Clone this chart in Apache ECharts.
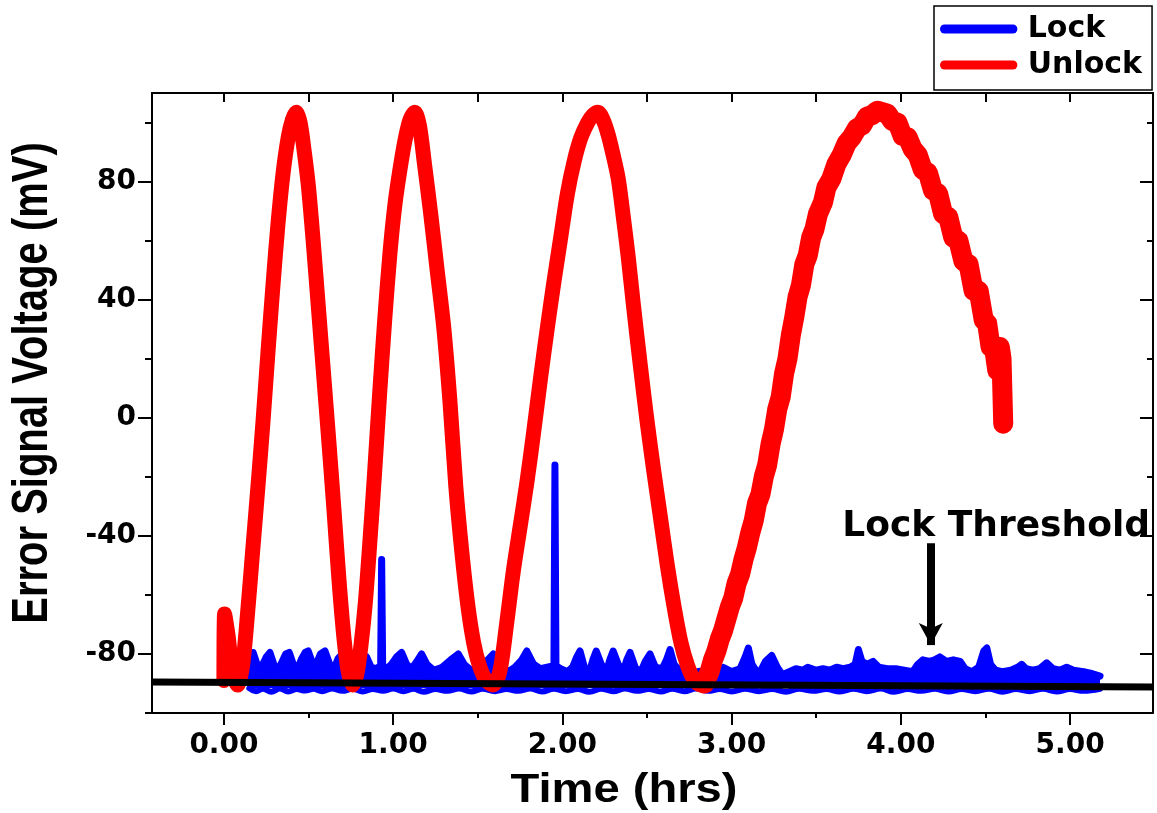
<!DOCTYPE html>
<html>
<head>
<meta charset="utf-8">
<title>Error Signal Voltage vs Time</title>
<script src="https://cdn.jsdelivr.net/npm/echarts@6/dist/echarts.min.js"></script>
<style>
  html, body { margin: 0; padding: 0; background: #ffffff; }
  #chart { width: 1157px; height: 813px; }
</style>
</head>
<body>
<div id="chart"></div>
<script>
// ---- axis ticks ----
const xMajorTicks = [0, 1, 2, 3, 4, 5];
const xMinorTicks = [0.5, 1.5, 2.5, 3.5, 4.5];
const xTopTicks = [0, 0.5, 1, 1.5, 2, 2.5, 3, 3.5, 4, 4.5, 5];
const yMajorTicks = [-80, -40, 0, 40, 80];
const yMinorTicks = [-100, -60, -20, 20, 60, 100];

// ---- Unlock trace (hours, mV): clean oscillation part ----
const unlockTimeA = [0.000,0.004,0.025,0.050,0.080,0.110,0.140,0.170,0.200,0.230,0.260,0.290,0.320,0.350,0.380,0.405,0.428,0.450,0.475,0.500,0.530,0.560,0.590,0.620,0.650,0.680,0.710,0.735,0.760,0.785,0.810,0.835,0.860,0.890,0.920,0.950,0.980,1.010,1.040,1.070,1.100,1.128,1.155,1.185,1.220,1.260,1.300,1.335,1.370,1.405,1.440,1.475,1.510,1.550,1.590,1.630,1.670,1.710,1.750,1.790,1.830,1.870,1.910,1.950,1.990,2.030,2.070,2.110,2.150,2.180,2.210,2.240,2.270,2.300,2.330,2.360,2.390,2.420,2.460,2.500,2.540,2.580,2.620,2.660,2.700,2.740,2.780,2.820,2.850];
const unlockValueA = [-89,-66.5,-74,-86,-90.5,-84,-66,-45,-24,-2,22,45,66,83,95,101,103.5,100,90,78,58,36,14,-8,-31,-55,-75,-86,-90.5,-87,-77,-63,-44,-19,8,33,55,72,84,94,101,103.5,99,86,70,50,30,6,-23,-45,-63,-76,-84,-89,-90.5,-86,-70,-52,-37,-22,-5,13,30,46,61,76,87,95,100,102.5,103.5,101,96,89,81,68,54,38,18,-1,-18,-34,-50,-64,-76,-84,-89,-90.5,-89.5];

// ---- Unlock trace: noisy slow swing ----
const unlockTimeB = [2.840,2.870,2.890,2.910,2.930,2.950,2.970,2.990,3.010,3.030,3.050,3.070,3.090,3.110,3.130,3.150,3.170,3.190,3.210,3.230,3.250,3.270,3.290,3.310,3.330,3.350,3.370,3.390,3.410,3.430,3.450,3.470,3.490,3.510,3.540,3.560,3.590,3.620,3.650,3.680,3.710,3.740,3.770,3.800,3.830,3.860,3.890,3.920,3.950,3.980,4.010,4.040,4.070,4.100,4.130,4.160,4.190,4.220,4.250,4.280,4.310,4.340,4.370,4.400,4.430,4.460,4.490,4.510,4.530,4.550,4.570,4.585,4.595,4.605];
const unlockValueB = [-90,-86,-82,-79,-75,-72,-68,-64,-61,-56,-53,-48,-44,-39,-35,-29,-26,-20,-16,-9,-4,3,7,15,20,28,34,41,45,52,55,61,64,69,73,78,81,86,89,93,95,98,99,102,102.5,104,103.5,103,100.5,100,95.5,95,91,89,84,83,77,76,69,68,61,60,53,52,43,43,33,32,24,24,16,24,20,-2];

// ---- Lock trace: upper envelope of the residual error ----
const lockTime = [0.150,0.160,0.173,0.190,0.205,0.225,0.250,0.272,0.295,0.320,0.345,0.365,0.386,0.410,0.435,0.460,0.480,0.498,0.520,0.545,0.570,0.597,0.625,0.650,0.675,0.700,0.725,0.750,0.780,0.810,0.843,0.870,0.900,0.926,0.932,0.938,0.960,0.990,1.020,1.050,1.080,1.110,1.140,1.168,1.200,1.240,1.290,1.340,1.385,1.420,1.460,1.500,1.550,1.592,1.630,1.680,1.720,1.760,1.790,1.830,1.870,1.910,1.950,1.956,1.962,1.990,2.030,2.060,2.085,2.104,2.130,2.160,2.180,2.200,2.230,2.260,2.280,2.300,2.330,2.360,2.380,2.400,2.430,2.460,2.490,2.518,2.550,2.590,2.615,2.636,2.660,2.700,2.750,2.800,2.850,2.900,2.950,3.000,3.050,3.080,3.099,3.120,3.160,3.200,3.237,3.270,3.300,3.340,3.380,3.420,3.450,3.500,3.540,3.580,3.620,3.660,3.700,3.730,3.749,3.770,3.800,3.836,3.870,3.920,3.970,4.020,4.070,4.100,4.130,4.170,4.200,4.230,4.270,4.310,4.350,4.380,4.420,4.460,4.490,4.508,4.530,4.560,4.600,4.650,4.690,4.714,4.740,4.780,4.820,4.862,4.900,4.940,4.980,5.020,5.080,5.120,5.177];
const lockValue = [-89,-83,-79.5,-82.5,-85,-84,-81,-79.5,-83.5,-85.5,-82.5,-80,-79.5,-83.5,-85,-81.5,-79.5,-79,-82.5,-83.5,-80,-79,-83.5,-85,-81.5,-80,-83.5,-85,-83.5,-82,-81,-84.5,-85,-84,-48,-84,-85,-83.5,-81,-79.5,-83.5,-85,-82.5,-80,-83.5,-85.5,-84.5,-82,-80,-83.5,-85.5,-85,-82.5,-80,-83.5,-86,-84.5,-82,-79,-83.5,-85,-84.5,-84,-16,-84,-85,-86,-84.5,-81,-79,-84.5,-86,-82,-79,-83.5,-86,-82,-79,-83.5,-86,-82,-79.5,-84.5,-86.5,-82.5,-80,-84.5,-85,-82,-78.5,-83.5,-86,-87,-86,-85.5,-86.5,-84.5,-86,-85,-81,-78,-83.5,-87,-82.5,-80.5,-84.5,-87,-86,-85,-85.5,-84.5,-85.5,-85,-85.5,-84.5,-85,-84.5,-83.5,-78.5,-82.5,-83.5,-82.5,-84.5,-85,-85,-85.5,-86,-83.5,-82,-82.5,-82,-81,-82.5,-82,-82.5,-85,-86,-84.5,-79,-78,-83.5,-85.5,-86,-85.5,-84.5,-83.5,-85,-85.5,-85,-83,-85,-85.5,-84.5,-85.5,-86,-86.5,-87.5];

// ---- Lock trace: lower edge ripple ----
const lockBaseTime = [0.150,0.190,0.230,0.280,0.330,0.380,0.430,0.480,0.530,0.580,0.640,0.700,0.760,0.820,0.880,0.940,1.000,1.060,1.120,1.180,1.250,1.320,1.390,1.460,1.530,1.600,1.670,1.740,1.810,1.880,1.950,2.020,2.090,2.160,2.230,2.300,2.370,2.440,2.510,2.580,2.650,2.720,2.790,2.860,2.930,3.000,3.080,3.160,3.240,3.320,3.400,3.480,3.560,3.640,3.720,3.800,3.880,3.960,4.040,4.120,4.200,4.280,4.360,4.440,4.520,4.600,4.680,4.760,4.840,4.920,5.000,5.080,5.177];
const lockBaseValue = [-91.6,-92.6,-91.8,-92.8,-91.7,-92.7,-91.9,-92.4,-91.8,-92.6,-91.7,-92.5,-91.8,-92.7,-91.9,-92.5,-91.7,-92.6,-91.8,-92.8,-91.9,-92.5,-91.7,-92.7,-91.8,-92.6,-91.9,-92.5,-91.7,-92.7,-91.8,-92.6,-91.9,-92.8,-91.8,-92.6,-91.7,-92.5,-91.9,-92.7,-91.8,-92.6,-91.7,-92.5,-91.9,-92.7,-91.8,-92.6,-91.9,-92.8,-91.8,-92.5,-91.9,-92.7,-91.8,-92.6,-91.7,-92.8,-91.9,-92.5,-91.8,-92.7,-91.9,-92.6,-91.8,-92.8,-91.9,-92.6,-91.8,-92.7,-91.9,-92.5,-91.8];

// ---- lock threshold reference line ----
const thresholdTime = [-0.425, 5.49];
const thresholdValue = [-89.5, -91.2];

// annotation anchor (hours, mV)
const thresholdLabelAt = [4.563, -37];
const arrowFrom = [4.177, -42.5];
const arrowTo = [4.177, -77];

const pairs = (t, v) => t.map((x, i) => [x, v[i]]);

const X_MIN = -0.425, X_MAX = 5.49, Y_MIN = -100, Y_MAX = 110;
const tickFont = { color: '#000', fontFamily: 'DejaVu Sans', fontWeight: 'bold', fontSize: 28 };
const axisLine = { show: true, onZero: false, lineStyle: { color: '#000', width: 2 } };
const noLine = { show: false, onZero: false };

const chart = echarts.init(document.getElementById('chart'), null, { renderer: 'canvas' });

const xAxisBase = { type: 'value', min: X_MIN, max: X_MAX, splitLine: { show: false } };
const yAxisBase = { type: 'value', min: Y_MIN, max: Y_MAX, splitLine: { show: false } };

chart.setOption({
  animation: false,
  backgroundColor: '#ffffff',
  grid: { left: 152, right: 4, top: 93, bottom: 100, containLabel: false },
  legend: {
    data: ['Lock', 'Unlock'],
    orient: 'vertical',
    left: 934,
    top: 6,
    padding: [8, 10, 10, 6],
    itemGap: 6,
    itemWidth: 86,
    itemHeight: 9,
    icon: 'path://M5,0 L81,0 A5,5 0 0 1 81,10 L5,10 A5,5 0 0 1 5,0 Z',
    borderColor: '#000',
    borderWidth: 1.5,
    textStyle: { color: '#000', fontFamily: 'DejaVu Sans', fontWeight: 'bold', fontSize: 30, lineHeight: 30, padding: [0, 0, 0, 1] },
    selectedMode: false
  },
  xAxis: [
    Object.assign({}, xAxisBase, {
      position: 'bottom',
      axisLine: axisLine,
      axisTick: { show: true, inside: false, length: 12, customValues: xMajorTicks, lineStyle: { color: '#000', width: 2 } },
      axisLabel: Object.assign({ show: true, margin: 19, customValues: xMajorTicks, formatter: v => v.toFixed(2) }, tickFont)
    }),
    Object.assign({}, xAxisBase, {
      position: 'bottom',
      axisLine: noLine,
      axisTick: { show: true, inside: false, length: 5, customValues: xMinorTicks, lineStyle: { color: '#000', width: 2 } },
      axisLabel: { show: false }
    }),
    Object.assign({}, xAxisBase, {
      position: 'top',
      axisLine: axisLine,
      axisTick: { show: true, inside: true, length: 9, customValues: xTopTicks, lineStyle: { color: '#000', width: 2 } },
      axisLabel: { show: false }
    })
  ],
  yAxis: [
    Object.assign({}, yAxisBase, {
      position: 'left',
      axisLine: axisLine,
      axisTick: { show: true, inside: false, length: 14, customValues: yMajorTicks, lineStyle: { color: '#000', width: 2 } },
      axisLabel: Object.assign({ show: true, margin: 16, customValues: yMajorTicks }, tickFont)
    }),
    Object.assign({}, yAxisBase, {
      position: 'left',
      axisLine: noLine,
      axisTick: { show: true, inside: false, length: 7, customValues: yMinorTicks, lineStyle: { color: '#000', width: 2 } },
      axisLabel: { show: false }
    }),
    Object.assign({}, yAxisBase, {
      position: 'right',
      axisLine: axisLine,
      axisTick: { show: true, inside: true, length: 13, customValues: yMajorTicks, lineStyle: { color: '#000', width: 2 } },
      axisLabel: { show: false }
    }),
    Object.assign({}, yAxisBase, {
      position: 'right',
      axisLine: noLine,
      axisTick: { show: true, inside: true, length: 6, customValues: yMinorTicks, lineStyle: { color: '#000', width: 2 } },
      axisLabel: { show: false }
    })
  ],
  series: [
    {
      name: 'Lock',
      type: 'line',
      xAxisIndex: 0, yAxisIndex: 0,
      data: pairs(lockTime, lockValue),
      showSymbol: false, symbol: 'none',
      color: '#0000FF',
      lineStyle: { color: '#0000FF', width: 7, join: 'round', cap: 'round' },
      areaStyle: { color: '#0000FF', opacity: 1, origin: -91.5 },
      z: 2
    },
    {
      name: 'Lock',
      type: 'line',
      xAxisIndex: 0, yAxisIndex: 0,
      data: pairs(lockBaseTime, lockBaseValue),
      showSymbol: false, symbol: 'none',
      smooth: 0.4,
      color: '#0000FF',
      lineStyle: { color: '#0000FF', width: 6, join: 'round', cap: 'round' },
      z: 2
    },
    {
      name: 'Unlock',
      type: 'line',
      xAxisIndex: 0, yAxisIndex: 0,
      data: pairs(unlockTimeA, unlockValueA),
      showSymbol: false, symbol: 'none',
      smooth: 0.3,
      color: '#FF0000',
      lineStyle: { color: '#FF0000', width: 15, join: 'round', cap: 'round' },
      z: 3
    },
    {
      name: 'Unlock',
      type: 'line',
      xAxisIndex: 0, yAxisIndex: 0,
      data: pairs(unlockTimeB, unlockValueB),
      showSymbol: false, symbol: 'none',
      color: '#FF0000',
      lineStyle: { color: '#FF0000', width: 20, join: 'round', cap: 'round' },
      z: 3
    },
    {
      name: 'Threshold',
      type: 'line',
      xAxisIndex: 0, yAxisIndex: 0,
      data: pairs(thresholdTime, thresholdValue),
      showSymbol: false, symbol: 'none',
      color: '#000',
      lineStyle: { color: '#000', width: 7 },
      z: 4,
      markPoint: {
        silent: true,
        symbol: 'circle',
        symbolSize: 1,
        itemStyle: { color: 'rgba(0,0,0,0)' },
        label: {
          show: true, position: 'inside', formatter: 'Lock Threshold',
          color: '#000', fontFamily: 'DejaVu Sans', fontWeight: 'bold', fontSize: 36
        },
        data: [{ coord: thresholdLabelAt }]
      },
      markLine: {
        silent: true,
        symbol: ['none', 'arrow'],
        symbolSize: [18, 22],
        label: { show: false },
        lineStyle: { color: '#000', width: 8, type: 'solid' },
        data: [[{ coord: arrowFrom }, { coord: arrowTo }]]
      }
    }
  ],
  graphic: [
    {
      type: 'text', x: 624, y: 791, scaleX: 1.15, silent: true,
      style: { text: 'Time (hrs)', fill: '#000', font: 'bold 41px "Liberation Sans", Arial, sans-serif', align: 'center', verticalAlign: 'middle' }
    },
    {
      type: 'text', x: 33, y: 383, rotation: Math.PI / 2, scaleY: 1.25, silent: true,
      style: { text: 'Error Signal Voltage (mV)', fill: '#000', font: 'bold 40px "Liberation Sans", Arial, sans-serif', align: 'center', verticalAlign: 'middle' }
    }
  ]
});
</script>
</body>
</html>
